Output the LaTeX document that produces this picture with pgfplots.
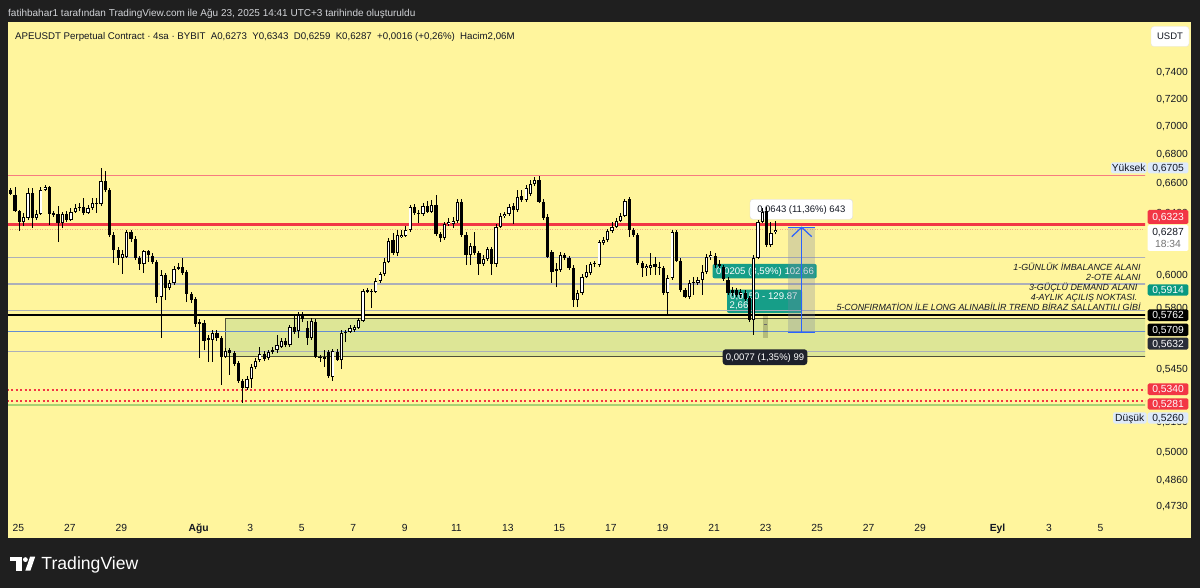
\documentclass[border=0pt]{standalone}
\usepackage{pgfplots}
\pgfplotsset{compat=1.18}
\usepackage{pgfplotstable}
\usepackage{fontspec}
\setmainfont{Liberation Sans}
\newcommand\fs[1]{\fontsize{#1}{#1}\selectfont}
\definecolor{frame}{RGB}{31,31,31}
\definecolor{panel}{RGB}{255,245,157}
\definecolor{txt}{RGB}{19,23,34}
\definecolor{tvred}{RGB}{242,54,69}
\definecolor{thinred}{RGB}{247,124,128}
\definecolor{curline}{RGB}{245,165,130}
\definecolor{tvteal}{RGB}{8,153,129}
\definecolor{tealbox}{RGB}{22,158,136}
\definecolor{tvnavy}{RGB}{42,46,57}
\definecolor{darklbl}{RGB}{30,33,43}
\definecolor{lblue}{RGB}{222,234,250}
\definecolor{glevel}{RGB}{172,175,185}
\definecolor{blevel}{RGB}{100,140,210}
\definecolor{greenline}{RGB}{168,210,115}
\definecolor{zonefill}{RGB}{221,230,150}
\definecolor{zoneedge}{RGB}{80,80,55}
\definecolor{tvblue}{RGB}{41,98,255}
\definecolor{hdr}{RGB}{210,212,216}
\definecolor{rangefill}{RGB}{120,130,160}

\pgfplotstableread{
j o h l c
0 0.6551 0.6565 0.6518 0.6525
1 0.6518 0.6572 0.6405 0.6412
2 0.6411 0.6418 0.6280 0.6339
3 0.6339 0.6398 0.6312 0.6372
4 0.6365 0.6565 0.6352 0.6531
5 0.6531 0.6565 0.6299 0.6365
6 0.6365 0.6418 0.6352 0.6392
7 0.6392 0.6571 0.6385 0.6551
8 0.6551 0.6585 0.6544 0.6571
9 0.6571 0.6578 0.6319 0.6392
10 0.6398 0.6411 0.6372 0.6385
11 0.6392 0.6444 0.6209 0.6332
12 0.6332 0.6405 0.6299 0.6392
13 0.6392 0.6411 0.6339 0.6352
14 0.6352 0.6431 0.6345 0.6405
15 0.6405 0.6458 0.6398 0.6431
16 0.6438 0.6464 0.6411 0.6431
17 0.6438 0.6498 0.6385 0.6398
18 0.6398 0.6451 0.6392 0.6431
19 0.6431 0.6498 0.6418 0.6464
20 0.6464 0.6498 0.6398 0.6458
21 0.6458 0.6702 0.6444 0.6612
22 0.6612 0.6681 0.6538 0.6551
23 0.6551 0.6565 0.6241 0.6254
24 0.6254 0.6273 0.6076 0.6158
25 0.6158 0.6177 0.6064 0.6107
26 0.6107 0.6158 0.6008 0.6132
27 0.6113 0.6286 0.6107 0.6273
28 0.6273 0.6286 0.6209 0.6228
29 0.6228 0.6247 0.6095 0.6107
30 0.6107 0.6120 0.6033 0.6070
31 0.6070 0.6158 0.6014 0.6152
32 0.6152 0.6158 0.6083 0.6126
33 0.6120 0.6139 0.6070 0.6083
34 0.6083 0.6095 0.5830 0.5867
35 0.5867 0.6033 0.5624 0.6002
36 0.6002 0.6014 0.5848 0.5921
37 0.5921 0.5971 0.5909 0.5952
38 0.5952 0.6058 0.5940 0.6039
39 0.6039 0.6076 0.6033 0.6051
40 0.6051 0.6107 0.6002 0.6014
41 0.6020 0.6033 0.5836 0.5885
42 0.5885 0.5897 0.5830 0.5848
43 0.5854 0.5867 0.5688 0.5706
44 0.5717 0.5735 0.5509 0.5706
45 0.5712 0.5729 0.5554 0.5606
46 0.5612 0.5641 0.5486 0.5624
47 0.5612 0.5670 0.5486 0.5653
48 0.5653 0.5670 0.5606 0.5624
49 0.5624 0.5635 0.5358 0.5514
50 0.5514 0.5566 0.5509 0.5548
51 0.5554 0.5566 0.5413 0.5537
52 0.5537 0.5548 0.5463 0.5475
53 0.5480 0.5491 0.5369 0.5380
54 0.5380 0.5391 0.5259 0.5341
55 0.5341 0.5408 0.5330 0.5391
56 0.5391 0.5475 0.5341 0.5458
57 0.5458 0.5509 0.5446 0.5491
58 0.5497 0.5571 0.5486 0.5531
59 0.5531 0.5548 0.5491 0.5503
60 0.5509 0.5554 0.5497 0.5543
61 0.5543 0.5571 0.5531 0.5554
62 0.5554 0.5641 0.5537 0.5583
63 0.5571 0.5624 0.5566 0.5606
64 0.5606 0.5624 0.5571 0.5583
65 0.5583 0.5700 0.5571 0.5688
66 0.5688 0.5759 0.5647 0.5659
67 0.5664 0.5776 0.5624 0.5759
68 0.5759 0.5776 0.5717 0.5735
69 0.5682 0.5723 0.5583 0.5624
70 0.5624 0.5741 0.5612 0.5723
71 0.5717 0.5735 0.5509 0.5514
72 0.5514 0.5526 0.5486 0.5509
73 0.5514 0.5554 0.5458 0.5503
74 0.5543 0.5554 0.5396 0.5408
75 0.5402 0.5560 0.5380 0.5548
76 0.5543 0.5560 0.5491 0.5497
77 0.5497 0.5670 0.5446 0.5653
78 0.5653 0.5670 0.5600 0.5659
79 0.5659 0.5700 0.5653 0.5682
80 0.5670 0.5700 0.5659 0.5688
81 0.5682 0.5741 0.5676 0.5729
82 0.5723 0.5915 0.5717 0.5903
83 0.5909 0.5921 0.5891 0.5897
84 0.5897 0.5915 0.5800 0.5903
85 0.5897 0.5983 0.5891 0.5965
86 0.5965 0.6020 0.5952 0.6008
87 0.6008 0.6107 0.5996 0.6083
88 0.6083 0.6235 0.6076 0.6215
89 0.6222 0.6267 0.6126 0.6139
90 0.6139 0.6286 0.6120 0.6254
91 0.6241 0.6286 0.6235 0.6254
92 0.6247 0.6312 0.6241 0.6286
93 0.6286 0.6451 0.6273 0.6438
94 0.6438 0.6458 0.6385 0.6398
95 0.6398 0.6418 0.6332 0.6392
96 0.6392 0.6464 0.6378 0.6444
97 0.6444 0.6477 0.6398 0.6405
98 0.6405 0.6484 0.6398 0.6451
99 0.6451 0.6518 0.6247 0.6260
100 0.6260 0.6273 0.6209 0.6235
101 0.6235 0.6339 0.6222 0.6326
102 0.6326 0.6365 0.6312 0.6339
103 0.6326 0.6372 0.6299 0.6345
104 0.6345 0.6491 0.6332 0.6471
105 0.6471 0.6491 0.6241 0.6254
106 0.6254 0.6273 0.6064 0.6126
107 0.6126 0.6203 0.6064 0.6184
108 0.6184 0.6273 0.6126 0.6139
109 0.6139 0.6152 0.6002 0.6070
110 0.6070 0.6126 0.6058 0.6101
111 0.6101 0.6177 0.6089 0.6165
112 0.6165 0.6177 0.6002 0.6070
113 0.6070 0.6326 0.6051 0.6306
114 0.6306 0.6398 0.6299 0.6378
115 0.6378 0.6405 0.6365 0.6392
116 0.6392 0.6458 0.6378 0.6438
117 0.6444 0.6464 0.6326 0.6418
118 0.6418 0.6551 0.6405 0.6505
119 0.6511 0.6551 0.6471 0.6484
120 0.6484 0.6585 0.6471 0.6565
121 0.6525 0.6619 0.6511 0.6592
122 0.6592 0.6640 0.6578 0.6619
123 0.6619 0.6647 0.6464 0.6471
124 0.6471 0.6491 0.6352 0.6365
125 0.6372 0.6392 0.6107 0.6113
126 0.6145 0.6158 0.5952 0.6020
127 0.6027 0.6076 0.5927 0.6039
128 0.6033 0.6145 0.6020 0.6126
129 0.6126 0.6139 0.6095 0.6107
130 0.6107 0.6120 0.6033 0.6045
131 0.6045 0.6064 0.5806 0.5848
132 0.5848 0.5909 0.5806 0.5891
133 0.5891 0.6008 0.5879 0.5989
134 0.5989 0.6064 0.5983 0.6020
135 0.6014 0.6083 0.6002 0.6070
136 0.6070 0.6089 0.6051 0.6076
137 0.6064 0.6222 0.6051 0.6209
138 0.6203 0.6241 0.6190 0.6222
139 0.6222 0.6292 0.6209 0.6280
140 0.6280 0.6339 0.6267 0.6306
141 0.6306 0.6365 0.6299 0.6345
142 0.6345 0.6398 0.6339 0.6378
143 0.6378 0.6491 0.6372 0.6477
144 0.6491 0.6505 0.6241 0.6286
145 0.6286 0.6299 0.6241 0.6254
146 0.6254 0.6267 0.6064 0.6076
147 0.6076 0.6089 0.5989 0.6045
148 0.6045 0.6070 0.5996 0.6058
149 0.6045 0.6139 0.6002 0.6064
150 0.6070 0.6113 0.6002 0.6051
151 0.6051 0.6083 0.6002 0.6045
152 0.6045 0.6058 0.5879 0.5891
153 0.5891 0.6002 0.5759 0.5983
154 0.5983 0.6286 0.5971 0.6273
155 0.6273 0.6286 0.6083 0.6089
156 0.6089 0.6107 0.5897 0.5909
157 0.5909 0.5921 0.5860 0.5867
158 0.5867 0.5971 0.5854 0.5952
159 0.5952 0.5989 0.5879 0.5958
160 0.5952 0.5989 0.5940 0.5971
161 0.5971 0.6064 0.5879 0.6020
162 0.6020 0.6132 0.6008 0.6113
163 0.6113 0.6152 0.6095 0.6126
164 0.6120 0.6139 0.6045 0.6064
165 0.6070 0.6095 0.6045 0.6058
166 0.6051 0.6064 0.5965 0.5977
167 0.5971 0.5989 0.5879 0.5891
168 0.5909 0.5927 0.5873 0.5891
169 0.5909 0.5921 0.5867 0.5879
170 0.5879 0.5915 0.5860 0.5897
171 0.5891 0.5909 0.5842 0.5854
172 0.5860 0.5873 0.5717 0.5729
173 0.5729 0.6126 0.5641 0.6107
174 0.6107 0.6352 0.6101 0.6339
175 0.6339 0.6431 0.6332 0.6405
176 0.6411 0.6438 0.6177 0.6190
177 0.6190 0.6339 0.6177 0.6267
178 0.6273 0.6343 0.6259 0.6287
}\candles

\begin{document}
\begin{tikzpicture}[x=1pt,y=1pt]
% frame and panel
\fill[frame] (0,0) rectangle (1200,-588);
\fill[panel] (8,-22) rectangle (1191,-538);
% header texts
\node[anchor=base west, inner sep=0, text=hdr, font=\fs{10}] at (8,-17) {fatihbahar1 tarafından TradingView.com ile Ağu 23, 2025 14:41 UTC+3 tarihinde oluşturuldu};
\node[anchor=base west, inner sep=0, text=txt, font=\fs{9.7}] at (15,-39.5) {APEUSDT Perpetual Contract · 4sa · BYBIT\hspace{0.55em}A0,6273\hspace{0.55em}Y0,6343\hspace{0.55em}D0,6259\hspace{0.55em}K0,6287\hspace{0.55em}+0,0016 (+0,26\%)\hspace{0.55em}Hacim2,06M};
% USDT box
\filldraw[fill=white, draw=black!10, rounded corners=3pt] (1151,-26.5) rectangle (1189,-46.5);
\node[anchor=base, inner sep=0, text=txt, font=\fs{9.5}] at (1170,-40) {USDT};
% logo
\fill[white] (9.6,-556.7) rectangle (22.2,-560.9);
\fill[white] (16.1,-556.7) rectangle (22.2,-570.7);
\fill[white] (25.4,-559.6) circle (2.4);
\fill[white] (25.3,-570.7) -- (30.4,-570.7) -- (35.2,-556.7) -- (30.1,-556.7) -- cycle;
\node[anchor=base west, inner sep=0, text=white, font=\fs{17.6}] at (41.3,-569.3) {TradingView};
% measurement labels under candles
\filldraw[fill=white, draw=black!14, rounded corners=3pt] (750,-199.3) rectangle (852.7,-219.3);
\node[anchor=base, inner sep=0, text=txt, font=\fs{9.5}] at (801.3,-212.7) {0,0643 (11,36\%) 643};
\fill[tealbox, rounded corners=2pt] (712.5,-264) rectangle (816.7,-278.3);
\node[anchor=base west, inner sep=0, text=white, font=\fs{9.6}] at (716,-274.5) {0,0205 (3,59\%) 102.66};
\fill[tealbox, rounded corners=2pt] (727,-289.7) rectangle (802,-313);
\node[anchor=base west, inner sep=0, text=white, font=\fs{9.6}] at (730,-299) {0,0150 - 129.87};
\node[anchor=base west, inner sep=0, text=white, font=\fs{9.6}] at (729.5,-308.3) {2,66};

\begin{axis}[
  at={(8pt,-515pt)}, anchor=south west,
  width=1137pt, height=493pt, scale only axis,
  xmin=-0.65, xmax=264.1,
  ymode=log, ymin=0.46846, ymax=0.7792,
  axis line style={draw=none},
  major tick length=0pt, minor tick length=0pt,
  xtick={1.75,13.75,25.75,43.75,55.75,67.75,79.75,91.75,103.75,115.75,127.75,139.75,151.75,163.75,175.75,187.75,199.75,211.75,229.75,241.75,253.75},
  xticklabels={25,27,29,\textbf{Ağu},3,5,7,9,11,13,15,17,19,21,23,25,27,29,\textbf{Eyl},3,5},
  xticklabel style={font=\fs{10.3}, text=txt, anchor=base, inner sep=0, yshift=-16pt},
  ytick={0.74,0.72,0.70,0.68,0.66,0.64,0.60,0.58,0.545,0.516,0.50,0.486,0.473},
  yticklabels={{0,7400},{0,7200},{0,7000},{0,6800},{0,6600},{0,6400},{0,6000},{0,5800},{0,5450},{0,5160},{0,5000},{0,4860},{0,4730}},
  yticklabel pos=right,
  yticklabel style={font=\fs{10.3}, text=txt, anchor=base east, inner sep=0, xshift=43pt, yshift=-3.7pt},
]
% demand zone
\filldraw[fill=zonefill, draw=zoneedge, line width=0.8pt] (axis cs:49.9,0.5737) rectangle (axis cs:275,0.5515);
% horizontal levels
\addplot[thinred, line width=1pt] coordinates {(-2,0.6647) (270,0.6647)};
\addplot[tvred, line width=2.6pt] coordinates {(-2,0.6323) (270,0.6323)};
\addplot[curline, line width=1pt, dash pattern=on 1pt off 1.5pt] coordinates {(-2,0.6287) (270,0.6287)};
\addplot[glevel, line width=1.4pt] coordinates {(-2,0.6112) (270,0.6112)};
\addplot[glevel, line width=1.4pt] coordinates {(-2,0.5946) (270,0.5946)};
\addplot[glevel, line width=1.1pt] coordinates {(-2,0.5785) (270,0.5785)};
\addplot[black, line width=1.6pt] coordinates {(-2,0.5760) (270,0.5760)};
\addplot[blevel, line width=1pt] coordinates {(-2,0.5662) (270,0.5662)};
\addplot[glevel, line width=1.4pt] coordinates {(-2,0.5546) (270,0.5546)};
\addplot[tvred, line width=1.6pt, dash pattern=on 2pt off 2.5pt] coordinates {(-2,0.5329) (270,0.5329)};
\addplot[tvred, line width=1.6pt, dash pattern=on 2pt off 2.5pt] coordinates {(-2,0.5271) (270,0.5271)};
\addplot[greenline, line width=2pt] coordinates {(-2,0.5249) (270,0.5249)};
% candles, one per table row
\pgfplotsinvokeforeach{0,...,178}{%
  \pgfplotstablegetelem{#1}{o}\of\candles \let\cO=\pgfplotsretval
  \pgfplotstablegetelem{#1}{h}\of\candles \let\cH=\pgfplotsretval
  \pgfplotstablegetelem{#1}{l}\of\candles \let\cL=\pgfplotsretval
  \pgfplotstablegetelem{#1}{c}\of\candles \let\cC=\pgfplotsretval
  \edef\doit{%
    \noexpand\addplot[black, line width=0.9pt] coordinates {(#1,\cL) (#1,\cH)};%
    \noexpand\addplot[black, line width=3.2pt] coordinates {(#1,\cO) (#1,\cC)};%
  }\doit
  \ifdim\dimexpr\cC pt-\cO pt\relax>0.0012pt
    \edef\doit{\noexpand\addplot[white, line width=1.4pt, shorten <=0.9pt, shorten >=0.9pt] coordinates {(#1,\cO) (#1,\cC)};}\doit
  \fi
}
\end{axis}

% price range tools
\fill[rangefill, opacity=0.28] (788.3,-227.3) rectangle (815,-332.7);
\draw[tvblue, line width=1.2pt] (788.3,-227.3) -- (815,-227.3);
\draw[tvblue, line width=1.2pt] (788.3,-332.7) -- (815,-332.7);
\draw[tvblue, line width=1.2pt] (801.7,-227.3) -- (801.7,-332.7);
\draw[tvblue, line width=1.2pt] (791.7,-236.7) -- (801.7,-227.3) -- (811.7,-236.7);
\fill[black, opacity=0.18] (762.7,-315) rectangle (767.7,-338.3);
\draw[black!60, line width=1pt] (763.8,-324.3) -- (766.6,-324.3);
% dark measurement label
\fill[darklbl, rounded corners=3pt] (722.7,-349.3) rectangle (807.3,-365);
\node[anchor=base, inner sep=0, text=white, font=\fs{9.5}] at (765,-360.3) {0,0077 (1,35\%) 99};

% right-side notes
\begin{scope}[every node/.style={anchor=base east, inner sep=0, text=txt, font=\fs{8.9}\itshape}]
\node at (1140.7,-270.7) {1-GÜNLÜK İMBALANCE ALANI};
\node at (1140.7,-280.7) {2-OTE ALANI};
\node at (1137.5,-290.7) {3-GÜÇLÜ DEMAND ALANI};
\node at (1137.5,-300.2) {4-AYLIK AÇILIŞ NOKTASI.};
\node at (1140.7,-310) {5-CONFIRMATİON İLE LONG ALINABİLİR TREND BİRAZ SALLANTILI GİBİ};
\end{scope}

% price scale labels
\begin{scope}[every node/.style={anchor=base, inner sep=0, font=\fs{10.3}}]
\fill[lblue, rounded corners=1.5pt] (1111,-162.3) rectangle (1146.5,-173.3);
\node[text=txt] at (1128.7,-171.5) {Yüksek};
\fill[lblue, rounded corners=1.5pt] (1147.7,-162.3) rectangle (1188.3,-173.3);
\node[text=txt] at (1168,-171.5) {0,6705};
\fill[tvred, rounded corners=1.5pt] (1147.7,-210) rectangle (1188.3,-224);
\node[text=white] at (1168,-220.8) {0,6323};
\fill[white, rounded corners=1.5pt] (1147.7,-225) rectangle (1188.3,-251);
\node[text=txt] at (1168,-235.8) {0,6287};
\node[text=black!55] at (1168,-247.3) {18:34};
\fill[tvteal, rounded corners=1.5pt] (1147.7,-284.3) rectangle (1188.3,-295.5);
\node[text=white] at (1168,-293.6) {0,5914};
\fill[black, rounded corners=1.5pt] (1147.7,-309.3) rectangle (1188.3,-321);
\node[text=white] at (1168,-318.9) {0,5762};
\fill[black, rounded corners=1.5pt] (1147.7,-323.5) rectangle (1188.3,-336);
\node[text=white] at (1168,-333.4) {0,5709};
\fill[tvnavy, rounded corners=1.5pt] (1147.7,-337.5) rectangle (1188.3,-349.5);
\node[text=white] at (1168,-347.2) {0,5632};
\fill[tvred, rounded corners=1.5pt] (1147.7,-383.3) rectangle (1188.3,-395);
\node[text=white] at (1168,-392.9) {0,5340};
\fill[tvred, rounded corners=1.5pt] (1147.7,-398.3) rectangle (1188.3,-409.5);
\node[text=white] at (1168,-407.7) {0,5281};
\fill[lblue, rounded corners=1.5pt] (1113,-412.3) rectangle (1146.5,-423.5);
\node[text=txt] at (1129.7,-421.7) {Düşük};
\fill[lblue, rounded corners=1.5pt] (1147.7,-412.3) rectangle (1188.3,-423.5);
\node[text=txt] at (1168,-421.7) {0,5260};
\end{scope}
\end{tikzpicture}
\end{document}
